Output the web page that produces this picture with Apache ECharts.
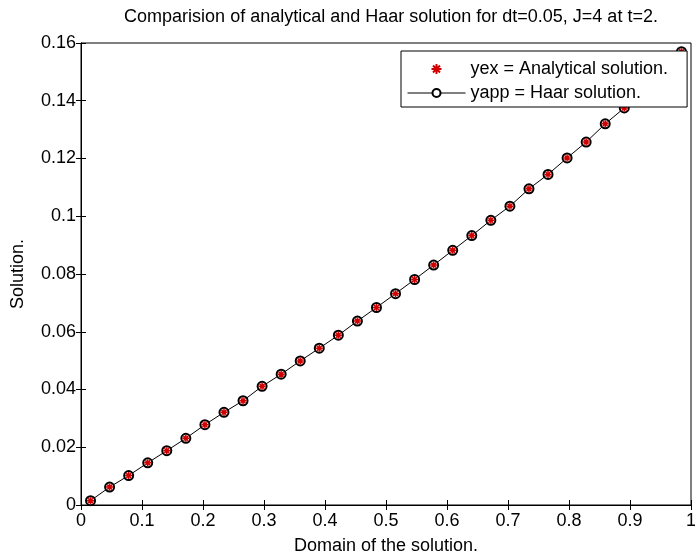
<!DOCTYPE html>
<html>
<head>
<meta charset="utf-8">
<script src="https://cdn.jsdelivr.net/npm/echarts@6/dist/echarts.min.js"></script>
<style>html,body{margin:0;padding:0;background:#fff;}#c{width:695px;height:555px;}</style>
</head>
<body>
<div id="c"></div>
<script>
const xValues = [0.015625,0.046875,0.078125,0.109375,0.140625,0.171875,0.203125,0.234375,0.265625,0.296875,0.328125,0.359375,0.390625,0.421875,0.453125,0.484375,0.515625,0.546875,0.578125,0.609375,0.640625,0.671875,0.703125,0.734375,0.765625,0.796875,0.828125,0.859375,0.890625,0.921875,0.953125,0.984375];
const yex = [0.0015,0.0062,0.0102,0.0146,0.0188,0.0231,0.0278,0.0321,0.0361,0.0411,0.0453,0.0499,0.0543,0.0588,0.0637,0.0684,0.0732,0.0781,0.0831,0.0882,0.0933,0.0986,0.1035,0.1095,0.1145,0.1202,0.1257,0.1320,0.1375,0.1438,0.1503,0.1570];
const yapp = [0.0015,0.0062,0.0102,0.0146,0.0188,0.0231,0.0278,0.0321,0.0361,0.0411,0.0453,0.0499,0.0543,0.0588,0.0637,0.0684,0.0732,0.0781,0.0831,0.0882,0.0933,0.0986,0.1035,0.1095,0.1145,0.1202,0.1257,0.1320,0.1375,0.1438,0.1503,0.1570];
const xTicks = ['0','0.1','0.2','0.3','0.4','0.5','0.6','0.7','0.8','0.9','1'];
const yTicks = ['0','0.02','0.04','0.06','0.08','0.1','0.12','0.14','0.16'];
const titleText = 'Comparision of analytical and Haar solution for dt=0.05, J=4 at t=2.';
const xName = 'Domain of the solution.';
const yName = 'Solution.';
const names = ['yex = Analytical solution.', 'yapp = Haar solution.'];

const FONT = 'Liberation Sans, Arial, sans-serif';
const FS = 18;
const chart = echarts.init(document.getElementById('c'), null, {renderer: 'canvas'});
const asterisk = 'path://M0,5L10,5M5,0L5,10M1.5,1.5L8.5,8.5M8.5,1.5L1.5,8.5';
const axisCommon = {
  axisLine: {show: true, lineStyle: {color: '#000', width: 1}},
  axisTick: {show: true, inside: true, length: 5, lineStyle: {color: '#000'}},
  splitLine: {show: false},
  axisLabel: {color: '#000', fontFamily: FONT, fontSize: FS}
};
chart.setOption({
  backgroundColor: '#fff',
  animation: false,
  title: {
    text: titleText, left: 386, top: 3, textAlign: 'center',
    textStyle: {fontFamily: FONT, fontSize: FS, fontWeight: 'normal', color: '#000'}
  },
  legend: {
    orient: 'vertical', left: 401, top: 51,
    backgroundColor: '#fff', borderColor: '#000', borderWidth: 1, borderRadius: 0,
    padding: [9, 19, 5, 6], itemGap: 6, itemWidth: 58, itemHeight: 10,
    lineStyle: {width: 1, color: '#000'},
    textStyle: {fontFamily: FONT, fontSize: FS, color: '#000', padding: [0, 0, 0, 0]},
    data: [names[0], names[1]]
  },
  grid: {left: 81, right: 4, top: 43, bottom: 50, show: true, borderColor: '#000', borderWidth: 1,
         containLabel: false, outerBoundsMode: 'none'},
  xAxis: [
    Object.assign({}, axisCommon, {
      type: 'value', min: 0, max: 1, interval: 0.1, position: 'bottom',
      name: xName, nameLocation: 'middle', nameGap: 32,
      nameTextStyle: {fontFamily: FONT, fontSize: FS, color: '#000'},
      axisLabel: Object.assign({}, axisCommon.axisLabel, {margin: 7, formatter: (v) => xTicks[Math.round(v * 10)]})
    }),
    Object.assign({}, axisCommon, {
      type: 'value', min: 0, max: 1, interval: 0.1, position: 'top',
      axisLabel: {show: false}
    })
  ],
  yAxis: [
    Object.assign({}, axisCommon, {
      type: 'value', min: 0, max: 0.16, interval: 0.02, position: 'left',
      name: yName, nameLocation: 'middle', nameGap: 54, nameRotate: 90,
      nameTextStyle: {fontFamily: FONT, fontSize: FS, color: '#000'},
      axisLabel: Object.assign({}, axisCommon.axisLabel, {margin: 5, formatter: (v) => yTicks[Math.round(v * 50)]})
    }),
    Object.assign({}, axisCommon, {
      type: 'value', min: 0, max: 0.16, interval: 0.02, position: 'right',
      axisLabel: {show: false}
    })
  ],
  series: [
    {
      name: names[1], type: 'line', z: 2,
      data: xValues.map((x, i) => [x, yapp[i]]),
      symbol: 'emptyCircle', symbolSize: 9, showSymbol: true,
      lineStyle: {color: '#000', width: 1},
      itemStyle: {color: '#000', borderColor: '#000', borderWidth: 1}
    },
    {
      name: names[0], type: 'scatter', z: 3,
      data: xValues.map((x, i) => [x, yex[i]]),
      symbol: asterisk, symbolSize: 7,
      itemStyle: {color: 'none', borderColor: '#d00000', borderWidth: 1.5, opacity: 1}
    }
  ]
});
</script>
</body>
</html>
